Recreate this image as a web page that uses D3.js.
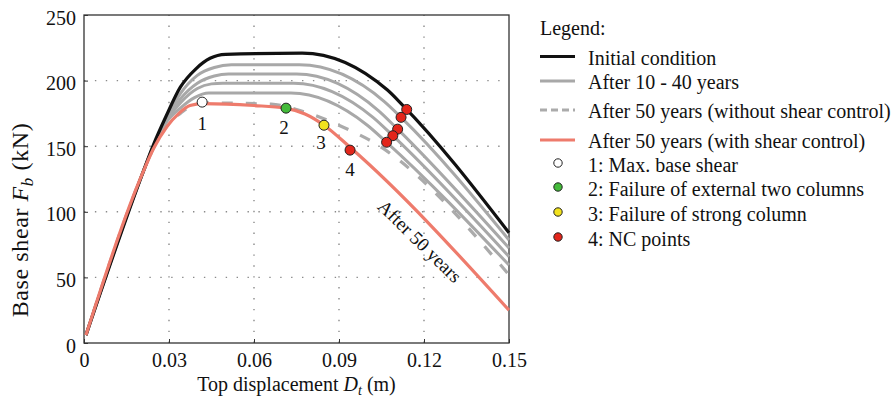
<!DOCTYPE html>
<html><head><meta charset="utf-8">
<script src="https://cdn.jsdelivr.net/npm/d3@7/dist/d3.min.js"></script>
<style>
body{margin:0;background:#fff}
svg{display:block}
text{font-family:"Liberation Serif","Times New Roman",serif;fill:#111}
</style>
</head><body>
<svg id="chart" width="896" height="400"></svg>
<script>
// ---------------- data ----------------
const xTicks = [0, 0.03, 0.06, 0.09, 0.12, 0.15];
const xTickLabels = ["0", "0.03", "0.06", "0.09", "0.12", "0.15"];
const yTicks = [0, 50, 100, 150, 200, 250];
const yTickLabels = ["0", "50", "100", "150", "200", "250"];
const xGrid = [0.03, 0.06, 0.09, 0.12];
const yGrid = [50, 100, 150, 200];

const initialCondition = [[0.0007,6],[0.0208,130],[0.0245,151],[0.029,173],[0.034,195],[0.0395,209],[0.0445,217],[0.05,220],[0.077,221],[0.107,193],[0.1126,181],[0.15,84]];
const after10 = [[0.0007,6],[0.0208,130],[0.0245,150],[0.029,171],[0.034,190],[0.04,204],[0.046,210],[0.052,212],[0.076,212],[0.106,184],[0.1119,172],[0.15,78.5]];
const after20 = [[0.0007,6],[0.0208,130],[0.0245,150],[0.029,170],[0.034,186],[0.04,198],[0.046,203.5],[0.051,205],[0.075,205],[0.104,177],[0.1107,163],[0.15,72.4]];
const after30 = [[0.0007,6],[0.0208,130],[0.0245,149.5],[0.029,169],[0.034,183],[0.04,194],[0.045,197.5],[0.049,198],[0.074,198],[0.102,172],[0.109,158],[0.15,65.8]];
const after40 = [[0.0007,6],[0.0208,130],[0.0245,149],[0.029,168],[0.034,179],[0.039,187],[0.044,190.5],[0.048,190.5],[0.073,190.5],[0.1,166],[0.1068,153],[0.15,59.4]];
const after50NoControl = [[0.0007,6],[0.0208,130],[0.0245,148.5],[0.029,166],[0.034,175],[0.038,181],[0.042,183],[0.066,182],[0.0765,177],[0.094,162],[0.1005,155],[0.15,52]];
const after50Control = [[0.0007,6],[0.0208,130],[0.0245,148],[0.0293,165],[0.0335,175],[0.0374,181],[0.042,182.5],[0.06,181],[0.071,179],[0.078,174.5],[0.0847,166],[0.094,149],[0.15,25]];

const maxShearPts = [[0.0417,183.6]];
const failExternalPts = [[0.0713,179]];
const failStrongPts = [[0.0847,166]];
const ncPts = [[0.0939,147],[0.1139,178],[0.1119,172],[0.1107,163],[0.109,158],[0.1068,153]];
const stageLabels = ["1","2","3","4"];
const stagePts = [[0.0417,183.6],[0.0713,179],[0.0847,166],[0.0939,147]];

const legendTitle = "Legend:";
const legendLineLabels = ["Initial condition","After 10 - 40 years","After 50 years (without shear control)","After 50 years (with shear control)"];
const legendMarkerLabels = ["1: Max. base shear","2: Failure of external two columns","3: Failure of strong column","4: NC points"];
const annotationText = "After 50 years";
const annotationPos = [0.1186, 77.7];

// ---------------- drawing ----------------
const svg = d3.select("#chart");
const M = {left:84, top:15, width:425, height:328};
const x = d3.scaleLinear().domain([0,0.15]).range([M.left, M.left+M.width]);
const y = d3.scaleLinear().domain([0,250]).range([M.top+M.height, M.top]);

const C = {black:"#111111", gray:"#a8a8a8", dashed:"#ababab", red:"#ee7b6c",
  white:"#ffffff", green:"#44bb3a", yellow:"#f2e21e", ncRed:"#e3261b"};

// grid
const g = svg.append("g");
g.selectAll(".gx").data(xGrid).join("line")
  .attr("x1",d=>x(d)).attr("x2",d=>x(d)).attr("y1",y(0)).attr("y2",y(250))
  .attr("stroke","#8a8a8a").attr("stroke-width",1.4).attr("stroke-dasharray","1.4,9.5");
g.selectAll(".gy").data(yGrid).join("line")
  .attr("y1",d=>y(d)).attr("y2",d=>y(d)).attr("x1",x(0)).attr("x2",x(0.15))
  .attr("stroke","#8a8a8a").attr("stroke-width",1.4).attr("stroke-dasharray","1.4,9.5");

// axes
const xAxis = d3.axisBottom(x).tickValues(xTicks).tickFormat((d,i)=>xTickLabels[i]).tickSizeInner(-4).tickSizeOuter(0).tickPadding(10);
const yAxis = d3.axisLeft(y).tickValues(yTicks).tickFormat((d,i)=>yTickLabels[i]).tickSizeInner(-4).tickSizeOuter(0).tickPadding(8);
const gx = svg.append("g").attr("transform",`translate(0,${y(0)})`).call(xAxis);
const gy = svg.append("g").attr("transform",`translate(${x(0)},0)`).call(yAxis);
[gx,gy].forEach(a=>{
  a.select(".domain").remove();
  a.selectAll(".tick line").attr("stroke","#333");
  a.selectAll(".tick text").attr("font-size",20).attr("font-family","Liberation Serif").attr("fill","#111");
});
gy.selectAll(".tick text").attr("dy","0.45em");
svg.append("rect").attr("x",x(0)).attr("y",y(250)).attr("width",x(0.15)-x(0)).attr("height",y(0)-y(250))
  .attr("fill","none").attr("stroke","#333").attr("stroke-width",1.3);

// curves
const line = d3.line().x(d=>x(d[0])).y(d=>y(d[1])).curve(d3.curveMonotoneX);
const curves = svg.append("g").attr("fill","none").attr("stroke-linejoin","round").attr("stroke-linecap","butt");
[after40, after30, after20, after10].forEach(s=>{
  curves.append("path").attr("d",line(s)).attr("stroke",C.gray).attr("stroke-width",3);
});
curves.append("path").attr("d",line(after50NoControl)).attr("stroke",C.dashed).attr("stroke-width",3.2).attr("stroke-dasharray","11,13");
curves.append("path").attr("d",line(initialCondition)).attr("stroke",C.black).attr("stroke-width",3.2);
curves.append("path").attr("d",line(after50Control)).attr("stroke",C.red).attr("stroke-width",3.2);

// markers
const mk = svg.append("g").attr("stroke","#222").attr("stroke-width",1);
const drawPts = (pts, fill) => mk.selectAll(null).data(pts).join("circle")
  .attr("cx",d=>x(d[0])).attr("cy",d=>y(d[1])).attr("r",5).attr("fill",fill);
drawPts(maxShearPts, C.white);
drawPts(failExternalPts, C.green);
drawPts(failStrongPts, C.yellow);
drawPts(ncPts, C.ncRed);

const labOff = [[0,21],[-2,19],[-3,17],[0,19]];
svg.append("g").selectAll("text").data(stagePts).join("text")
  .attr("x",(d,i)=>x(d[0])+labOff[i][0]).attr("y",(d,i)=>y(d[1])+labOff[i][1])
  .attr("text-anchor","middle").attr("dy","0.35em").attr("font-size",19)
  .text((d,i)=>stageLabels[i]);

// rotated annotation
svg.append("text")
  .attr("transform",`translate(${x(annotationPos[0])},${y(annotationPos[1])}) rotate(44.5)`)
  .attr("text-anchor","middle").attr("dy","0.35em").attr("font-size",19)
  .text(annotationText);

// axis labels
const xl = svg.append("text").attr("x",x(0.075)).attr("y",391).attr("text-anchor","middle").attr("font-size",20);
xl.append("tspan").text("Top displacement ");
xl.append("tspan").attr("font-style","italic").text("D");
xl.append("tspan").attr("font-style","italic").attr("font-size",14).attr("dy",4).text("t");
xl.append("tspan").attr("dy",-4).text(" (m)");

const yl = svg.append("text").attr("transform",`translate(28,${220}) rotate(-90)`).attr("text-anchor","middle")
  .attr("font-size",24).attr("letter-spacing","0.6px");
yl.append("tspan").text("Base shear ");
yl.append("tspan").attr("font-style","italic").text("F");
yl.append("tspan").attr("font-style","italic").attr("font-size",17).attr("dy",5).text("b");
yl.append("tspan").attr("dy",-5).text(" (kN)");

// legend
const L = svg.append("g");
const lx = 540, tx = 588;
L.append("text").attr("x",lx).attr("y",27.5).attr("dy","0.35em").attr("font-size",20).text(legendTitle);
const lineRows = [57.5, 82, 111, 141];
const lineStyles = [
  {c:C.black, dash:null},
  {c:C.gray, dash:null},
  {c:C.dashed, dash:"7,4"},
  {c:C.red, dash:null}];
legendLineLabels.forEach((t,i)=>{
  L.append("line").attr("x1",lx).attr("x2",lx+35).attr("y1",lineRows[i]-1).attr("y2",lineRows[i]-1)
    .attr("stroke",lineStyles[i].c).attr("stroke-width",3).attr("stroke-dasharray",lineStyles[i].dash);
  L.append("text").attr("x",tx).attr("y",lineRows[i]).attr("dy","0.35em").attr("font-size",20).text(t);
});
const markRows = [165, 189, 214, 239];
const markFills = [C.white, C.green, C.yellow, C.ncRed];
legendMarkerLabels.forEach((t,i)=>{
  L.append("circle").attr("cx",558).attr("cy",markRows[i]-2).attr("r",4.2)
    .attr("fill",markFills[i]).attr("stroke","#222").attr("stroke-width",1);
  L.append("text").attr("x",tx).attr("y",markRows[i]).attr("dy","0.35em").attr("font-size",20).text(t);
});
</script>
</body></html>
